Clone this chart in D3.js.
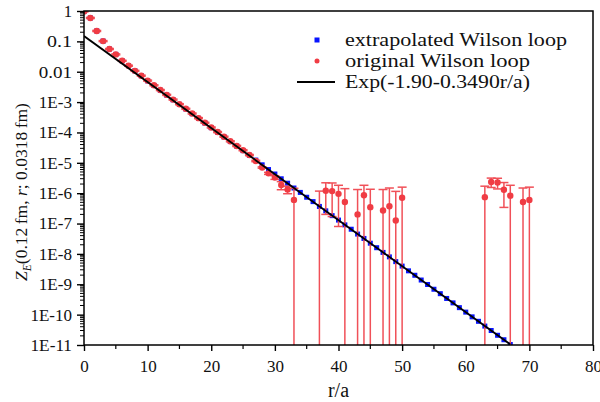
<!DOCTYPE html>
<html>
<head>
<meta charset="utf-8">
<script src="https://cdn.jsdelivr.net/npm/d3@7"></script>
<style>
  body { margin: 0; background: #fff; }
  svg text { font-family: "Liberation Serif", "DejaVu Serif", serif; fill: #111; }
</style>
</head>
<body>
<div id="chart"></div>
<script>
// original Wilson loop (red), negative values are not shown on the log scale
const rOriginal = [0, 1, 2, 3, 4, 5, 6, 7, 8, 9, 10, 11, 12, 13, 14, 15, 16, 17, 18, 19,
    20, 21, 22, 23, 24, 25, 26, 27, 28, 29, 30, 31, 32, 33, 37, 38, 39, 40, 41, 43,
    44, 45, 47, 48, 49, 50, 63, 64, 65, 66, 67, 69, 70];
const zOriginal = [0.97, 0.59, 0.22, 0.102, 0.056, 0.0372, 0.0229, 0.0158, 0.0107, 0.0074,
    0.0051, 0.00357, 0.00249, 0.00173, 0.00121, 8.53e-4, 6.03e-4, 4.2e-4, 2.96e-4, 2.09e-4,
    1.456e-4, 1.03e-4, 7.25e-5, 5.11e-5, 3.6e-5, 2.6e-5, 1.8e-5, 1.15e-5, 7.0e-6, 4.5e-6,
    3.3e-6, 1.85e-6, 1.33e-6, 6.0e-7, -3.0e-7, 1.2e-6, 1.17e-6, 9.5e-7, 5.1e-7, 2.0e-7,
    8.5e-7, 3.47e-7, 2.7e-7, 3.7e-7, 1.26e-7, 7.1e-7, 7.4e-7, 2.34e-6, 2.24e-6, 1.29e-6,
    8.3e-7, 5.1e-7, 6.0e-7];
const zOriginalErr = [0.04, 0.024, 0.009, 0.004, 0.0022, 0.0015, 0.0009, 0.0006, 0.0004, 0.0003,
    0.0002, 0.00014, 0.0001, 7e-5, 5e-5, 3.4e-5, 2.4e-5, 1.7e-5, 1.2e-5, 8.4e-6,
    5.8e-6, 4.1e-6, 2.9e-6, 2.0e-6, 1.5e-6, 1.1e-6, 8e-7, 6e-7, 3.5e-7, 3.5e-7,
    4.5e-7, 5.5e-7, 3.7e-7, 8.5e-7, 1.47e-6, 1.0e-6, 1.0e-6, 8.7e-7, 9.0e-7, 1.12e-6,
    9.7e-7, 1.0e-6, 1.05e-6, 1.11e-6, 1.02e-6, 8.7e-7, 9.6e-7, 8.0e-7, 8.6e-7, 9.5e-7,
    9.9e-7, 9.7e-7, 9.8e-7];

// extrapolated Wilson loop (blue)
const rExtrap = [0, 1, 2, 3, 4, 5, 6, 7, 8, 9, 10, 11, 12, 13, 14, 15, 16, 17, 18, 19,
    20, 21, 22, 23, 24, 25, 26, 27, 28, 29, 30, 31, 32, 33, 34, 35, 36, 37, 38, 39,
    40, 41, 42, 43, 44, 45, 46, 47, 48, 49, 50, 51, 52, 53, 54, 55, 56, 57, 58, 59,
    60, 61, 62, 63, 64, 65, 66, 67];
const zExtrap = [0.97, 0.59, 0.22, 0.102, 0.056, 0.0372, 0.0229, 0.0158, 0.0107, 0.0074,
    0.0050, 0.00352, 0.00245, 0.00170, 0.00119, 8.4e-4, 5.95e-4, 4.15e-4, 2.92e-4, 2.05e-4,
    1.44e-4, 1.02e-4, 7.15e-5, 5.02e-5, 3.55e-5, 2.52e-5, 1.77e-5, 1.23e-5, 8.6e-6, 6.0e-6,
    4.28e-6, 2.98e-6, 2.13e-6, 1.48e-6, 1.06e-6, 7.35e-7, 5.28e-7, 3.66e-7, 2.62e-7, 1.82e-7,
    1.30e-7, 9.05e-8, 6.5e-8, 4.5e-8, 3.23e-8, 2.25e-8, 1.6e-8, 1.12e-8, 7.98e-9, 5.57e-9,
    3.97e-9, 2.77e-9, 1.98e-9, 1.38e-9, 9.85e-10, 6.86e-10, 4.9e-10, 3.41e-10, 2.44e-10, 1.70e-10,
    1.21e-10, 8.45e-11, 6.03e-11, 4.2e-11, 3.0e-11, 2.09e-11, 1.49e-11, 1.04e-11];

// fit Exp(-1.90-0.3490r/a), end points
const fitR = [0, 67];
const fitZ = [0.1496, 1.046e-11];

const xTicks = [0, 10, 20, 30, 40, 50, 60, 70, 80];
const yTickValues = [1, 1e-1, 1e-2, 1e-3, 1e-4, 1e-5, 1e-6, 1e-7, 1e-8, 1e-9, 1e-10, 1e-11];
const yTickLabels = ["1", "0.1", "0.01", "1E-3", "1E-4", "1E-5", "1E-6", "1E-7", "1E-8", "1E-9", "1E-10", "1E-11"];
const legendLabels = ["extrapolated Wilson loop", "original Wilson loop", "Exp(-1.90-0.3490r/a)"];

const W = 600, H = 402;
const plot = {left: 84, right: 593, top: 11, bottom: 345};
const red = "#f03c44", redBar = "#f05058", blue = "#0814ff";

const svg = d3.select("#chart").append("svg")
    .attr("width", W)
    .attr("height", H);

const x = d3.scaleLinear().domain([0, 80]).range([plot.left, plot.right]);
const y = d3.scaleLog().domain([1e-11, 1]).range([plot.bottom, plot.top]);

svg.append("clipPath").attr("id", "clip")
    .append("rect")
    .attr("x", plot.left).attr("y", plot.top)
    .attr("width", plot.right - plot.left).attr("height", plot.bottom - plot.top);

const body = svg.append("g").attr("clip-path", "url(#clip)");

// blue squares
const extrap = rExtrap.map((r, i) => ({r: r, z: zExtrap[i]}));
body.append("g").selectAll("rect")
    .data(extrap)
    .join("rect")
    .attr("x", d => x(d.r) - 2.5)
    .attr("y", d => y(d.z) - 2.5)
    .attr("width", 5)
    .attr("height", 5)
    .attr("fill", blue);

// red error bars and dots
const orig = rOriginal.map((r, i) => ({r: r, z: zOriginal[i], e: zOriginalErr[i]}));
const yMin = y.domain()[0];
const lowY = d => (d.z - d.e > 0 ? y(d.z - d.e) : plot.bottom + 5);
const highY = d => y(Math.max(d.z + d.e, yMin));

const bars = body.append("g")
    .attr("stroke", redBar)
    .attr("stroke-width", 1.5);
bars.selectAll("line.v")
    .data(orig)
    .join("line")
    .attr("class", "v")
    .attr("x1", d => x(d.r)).attr("x2", d => x(d.r))
    .attr("y1", lowY).attr("y2", highY);
bars.selectAll("line.top")
    .data(orig)
    .join("line")
    .attr("class", "top")
    .attr("x1", d => x(d.r) - 4.5).attr("x2", d => x(d.r) + 4.5)
    .attr("y1", highY).attr("y2", highY);
bars.selectAll("line.low")
    .data(orig.filter(d => d.z - d.e > 0))
    .join("line")
    .attr("class", "low")
    .attr("x1", d => x(d.r) - 4.5).attr("x2", d => x(d.r) + 4.5)
    .attr("y1", lowY).attr("y2", lowY);

body.append("g").selectAll("circle")
    .data(orig.filter(d => d.z > 0))
    .join("circle")
    .attr("cx", d => x(d.r))
    .attr("cy", d => y(d.z))
    .attr("r", 3.2)
    .attr("fill", red);

// fit line
const fit = fitR.map((r, i) => ({r: r, z: fitZ[i]}));
body.append("path")
    .datum(fit)
    .attr("fill", "none")
    .attr("stroke", "#000")
    .attr("stroke-width", 1.8)
    .attr("d", d3.line().x(d => x(d.r)).y(d => y(d.z)));

// frame
svg.append("rect")
    .attr("x", plot.left).attr("y", plot.top)
    .attr("width", plot.right - plot.left).attr("height", plot.bottom - plot.top)
    .attr("fill", "none")
    .attr("stroke", "#000")
    .attr("stroke-width", 1.5);

// x axis
const xAxis = svg.append("g").attr("transform", `translate(0,${plot.bottom})`);
xAxis.call(d3.axisBottom(x).tickValues(xTicks).tickSize(6).tickFormat(d3.format("d")));
xAxis.select(".domain").remove();
xAxis.selectAll(".tick line").attr("stroke", "#000").attr("stroke-width", 1.4);
xAxis.selectAll(".tick text")
    .attr("y", 27)
    .attr("dy", 0)
    .style("font-size", "17px")
    .style("font-family", "Liberation Serif");
xAxis.selectAll(".minor")
    .data([5, 15, 25, 35, 45, 55, 65, 75])
    .join("line")
    .attr("x1", d => x(d)).attr("x2", d => x(d))
    .attr("y1", 0).attr("y2", 4)
    .attr("stroke", "#000").attr("stroke-width", 1.2);

// y axis
const yAxis = svg.append("g").attr("transform", `translate(${plot.left},0)`);
yAxis.call(d3.axisLeft(y).tickValues(yTickValues).tickSize(7)
    .tickFormat((d, i) => yTickLabels[i]));
yAxis.select(".domain").remove();
yAxis.selectAll(".tick line").attr("stroke", "#000").attr("stroke-width", 1.4);
yAxis.selectAll(".tick text")
    .attr("x", -12)
    .style("font-size", "17px")
    .style("font-family", "Liberation Serif")
    .attr("textLength", (d, i) => yTickLabels[i].length * 8.3)
    .attr("lengthAdjust", "spacingAndGlyphs");

const minorY = [];
yTickValues.slice(1).forEach(p => {
    [2, 3, 4, 5, 6, 7, 8, 9].forEach(m => minorY.push(p * m));
});
yAxis.selectAll(".minor")
    .data(minorY)
    .join("line")
    .attr("x1", -4).attr("x2", 0)
    .attr("y1", d => y(d)).attr("y2", d => y(d))
    .attr("stroke", "#000").attr("stroke-width", 1);

// axis titles
svg.append("text")
    .attr("x", (plot.left + plot.right) / 2)
    .attr("y", 397)
    .attr("text-anchor", "middle")
    .style("font-size", "20px")
    .text("r/a");

const yTitle = svg.append("text")
    .attr("transform", "translate(27,192) rotate(-90)")
    .attr("text-anchor", "middle")
    .style("font-size", "17.5px");
yTitle.append("tspan").style("font-style", "italic").text("Z");
yTitle.append("tspan").style("font-style", "italic").style("font-size", "11.5px").attr("dy", 4).text("E");
yTitle.append("tspan").attr("dy", -4).text("(0.12\u2009fm, ");
yTitle.append("tspan").style("font-style", "italic").text("r");
yTitle.append("tspan").text("; 0.0318\u2009fm)");

// legend
const legend = svg.append("g");
const rowY = [40, 61, 82];
legend.append("rect")
    .attr("x", 314.5).attr("y", rowY[0] - 2.5)
    .attr("width", 5).attr("height", 5)
    .attr("fill", blue);
legend.append("circle")
    .attr("cx", 317).attr("cy", rowY[1])
    .attr("r", 2.5)
    .attr("fill", red);
legend.append("line")
    .attr("x1", 297).attr("x2", 335)
    .attr("y1", rowY[2]).attr("y2", rowY[2])
    .attr("stroke", "#000").attr("stroke-width", 1.8);
legend.selectAll("text")
    .data(legendLabels)
    .join("text")
    .attr("x", 345)
    .attr("y", (d, i) => rowY[i] + 6)
    .attr("textLength", d => d.length * 9.25)
    .attr("lengthAdjust", "spacingAndGlyphs")
    .style("font-size", "18px")
    .text(d => d);
</script>
</body>
</html>
